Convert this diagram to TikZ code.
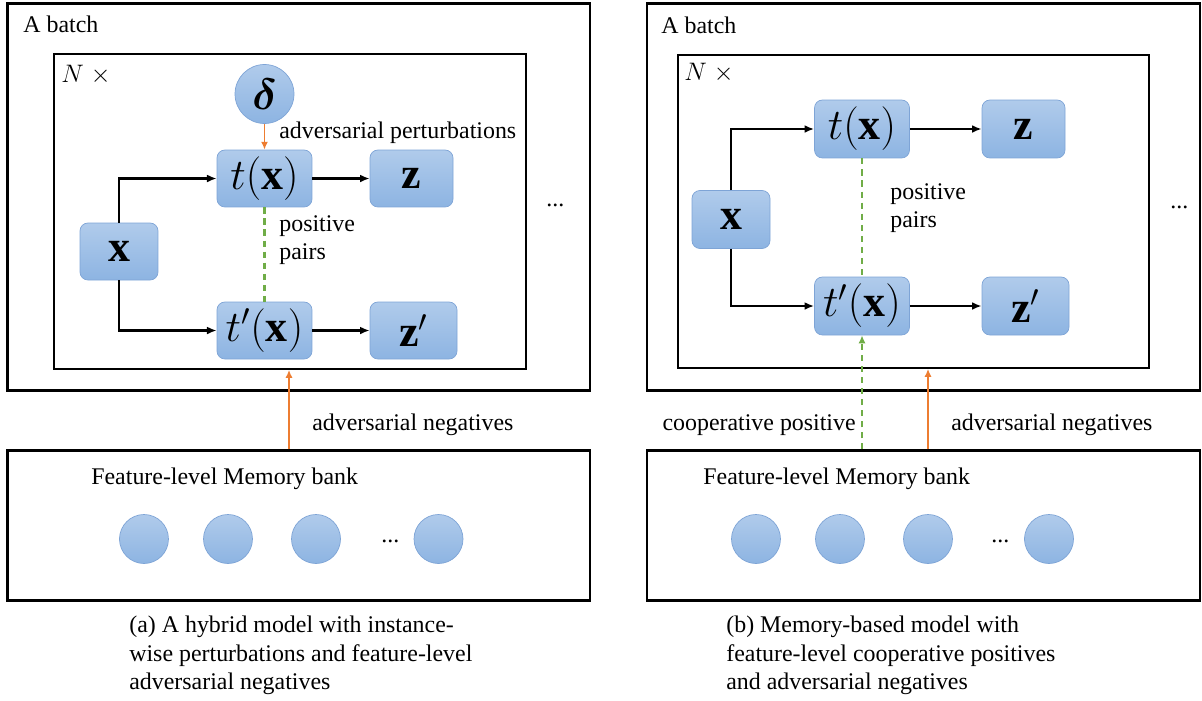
\documentclass[tikz,border=0pt]{standalone}
\usepackage{fontspec}
\setmainfont{LiberationSerif}[Extension=.ttf,UprightFont=*-Regular,BoldFont=*-Bold,ItalicFont=*-Italic,BoldItalicFont=*-BoldItalic]
\usepackage{bm}
\usetikzlibrary{arrows.meta}
\definecolor{boxtop}{RGB}{176,203,235}
\definecolor{boxbot}{RGB}{141,180,226}
\definecolor{boxline}{RGB}{126,164,214}
\definecolor{advorange}{RGB}{237,125,49}
\definecolor{posgreen}{RGB}{112,173,71}
\begin{document}
\begin{tikzpicture}[x=0.02cm,y=-0.02cm,font=\fontsize{13.6}{16.2}\selectfont,
  frame/.style={draw,line width=1.5pt,inner sep=0},
  subframe/.style={draw,line width=1pt,inner sep=0},
  opbox/.style={draw=boxline,rounded corners=4.5pt,top color=boxtop,bottom color=boxbot,
    minimum width=1.9cm,minimum height=1.14cm,inner sep=0,font=\fontsize{25}{29}\selectfont},
  bubble/.style={circle,draw=boxline,top color=boxtop,bottom color=boxbot,minimum size=0.98cm,inner sep=0},
  lbl/.style={inner sep=0,anchor=base west},
  flow/.style={line width=1.2pt,-{Latex[length=5.5pt,width=4.5pt]}},
  adv/.style={advorange,line width=1.1pt,-{Latex[length=4.5pt,width=4pt]}},
  pospair/.style={posgreen,line width=1.2pt,dash pattern=on 3.5pt off 2.8pt},
  coop/.style={posgreen,line width=1.2pt,dash pattern=on 3.5pt off 2.8pt,-{Latex[length=4.5pt,width=4pt]}}]
\useasboundingbox (0,0) rectangle (1202,700);

\node[frame,minimum width=11.65cm,minimum height=7.75cm] (outerA) at (298.85,197) {};
\node[subframe,minimum width=9.44cm,minimum height=6.3cm] (innerA) at (290,211.5) {};
\node[frame,minimum width=11.65cm,minimum height=3cm] (bankA) at (298.85,525.7) {};
\node[lbl] (batchA) at (23,32) {A batch};
\node[lbl] (nA) at (61,82) {$N\;\times$};

\node[bubble,minimum size=1.18cm,font=\fontsize{25}{29}\selectfont] (da) at (264.5,94) {$\bm{\delta}$};
\node[opbox] (ta) at (264.5,178.5) {$t(\mathbf{x})$};
\node[opbox,minimum width=1.66cm] (za) at (411.5,178.5) {$\mathbf{z}$};
\node[opbox,minimum width=1.56cm] (xa) at (119,251.5) {$\mathbf{x}$};
\node[opbox] (tpa) at (264.5,330.5) {$t'(\mathbf{x})$};
\node[opbox,minimum width=1.74cm] (zpa) at (413.5,330.5) {$\mathbf{z}'$};
\node[lbl] (pertA) at (279,138) {adversarial perturbations};
\node[inner sep=0,anchor=north west,align=left] (posA) at (279,215) {positive\\pairs};
\node[lbl] (dotsA) at (546,206) {...};
\draw[flow] (xa.north) |- (ta.west);
\draw[flow] (xa.south) |- (tpa.west);
\draw[flow] (ta) -- (za);
\draw[flow] (tpa) -- (zpa);
\draw[adv] (da) -- (ta);
\draw[pospair] (ta) -- (tpa);

\coordinate (negA) at (289,450);
\draw[adv] (negA |- bankA.north) -- (negA |- innerA.south);
\node[lbl] (negtxtA) at (312,430) {adversarial negatives};
\node[lbl] (memA) at (91,484) {Feature-level Memory bank};
\node[bubble] (ca1) at (144,539) {};
\node[bubble] (ca2) at (228,539) {};
\node[bubble] (ca3) at (316,539) {};
\node[lbl] (cdotsA) at (381,542) {...};
\node[bubble] (ca4) at (438.5,539) {};
\node[inner sep=0,anchor=north west,align=left] (capA) at (129,616) {(a) A hybrid model with instance-\\wise perturbations and feature-level\\adversarial negatives};

\node[frame,minimum width=11.06cm,minimum height=7.75cm] (outerB) at (923.5,197) {};
\node[subframe,minimum width=9.42cm,minimum height=6.26cm] (innerB) at (913.5,211.5) {};
\node[frame,minimum width=11.06cm,minimum height=3cm] (bankB) at (923.5,525.7) {};
\node[lbl] (batchB) at (661,33) {A batch};
\node[lbl] (nB) at (684,80) {$N\;\times$};

\node[opbox,minimum height=1.16cm] (tb) at (862,129) {$t(\mathbf{x})$};
\node[opbox,minimum height=1.16cm,minimum width=1.66cm] (zb) at (1023.5,129) {$\mathbf{z}$};
\node[opbox,minimum height=1.16cm,minimum width=1.56cm] (xb) at (731,219.5) {$\mathbf{x}$};
\node[opbox,minimum height=1.16cm] (tpb) at (862,306) {$t'(\mathbf{x})$};
\node[opbox,minimum height=1.16cm,minimum width=1.74cm] (zpb) at (1025.5,306) {$\mathbf{z}'$};
\node[inner sep=0,anchor=north west,align=left] (posB) at (890,183) {positive\\pairs};
\node[lbl] (dotsB) at (1170,208) {...};
\draw[flow] (xb.north) |- (tb.west);
\draw[flow] (xb.south) |- (tpb.west);
\draw[flow] (tb) -- (zb);
\draw[flow] (tpb) -- (zpb);
\draw[pospair] (tb) -- (tpb);

\coordinate (negB) at (928,450);
\draw[coop] (tpb |- bankB.north) -- (tpb.south);
\draw[adv] (negB |- bankB.north) -- (negB |- innerB.south);
\node[inner sep=0,anchor=base east] (cooptxt) at (856,430) {cooperative positive};
\node[lbl] (negtxtB) at (951,430) {adversarial negatives};
\node[lbl] (memB) at (703,484) {Feature-level Memory bank};
\node[bubble] (cb1) at (756,539) {};
\node[bubble] (cb2) at (840,539) {};
\node[bubble] (cb3) at (928,539) {};
\node[lbl] (cdotsB) at (991,542) {...};
\node[bubble] (cb4) at (1049,539) {};
\node[inner sep=0,anchor=north west,align=left] (capB) at (726,616) {(b) Memory-based model with\\feature-level cooperative positives\\and adversarial negatives};
\end{tikzpicture}
\end{document}
